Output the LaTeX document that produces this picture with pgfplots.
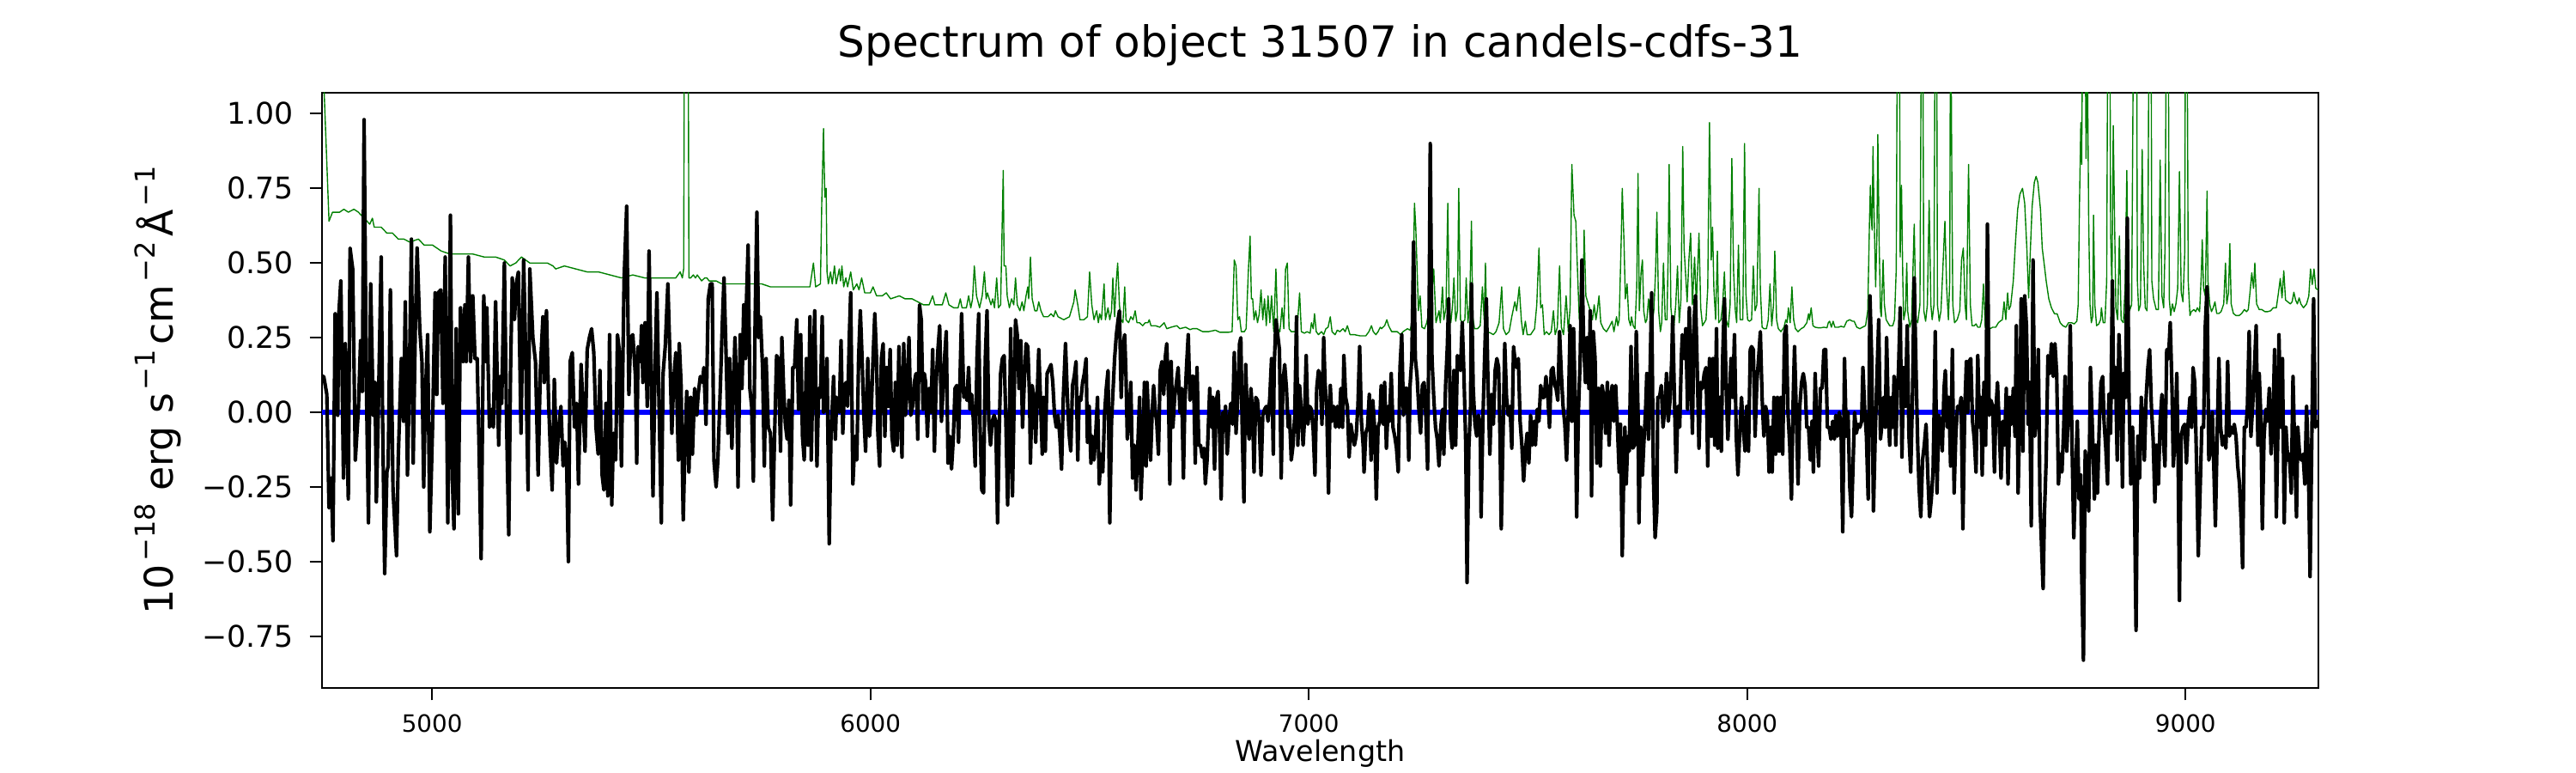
\documentclass[border=0pt]{standalone}
\usepackage{fontspec}
\setmainfont{DejaVu Sans}
\usepackage{pgfplots}
\pgfplotsset{compat=1.18}
\definecolor{mplgreen}{rgb}{0,0.5,0}
\newcommand\sups[1]{\kern0.08em\raisebox{0.44em}{\fontsize{11.5bp}{12bp}\selectfont #1}}
\begin{document}
\begin{tikzpicture}
\useasboundingbox (-135bp,-35.64bp) rectangle (945bp,288.36bp);
\begin{axis}[
  at={(0,0)}, anchor=south west,
  scale only axis, width=837bp, height=249.48bp,
  xmin=4749, xmax=9303, ymin=-0.923, ymax=1.070,
  axis line style={line width=0.8bp},
  tick align=outside, tick pos=left,
  major tick length=5.2bp,
  every tick/.style={line width=0.8bp, black},
  xtick={5000,6000,7000,8000,9000},
  xticklabels={5000,6000,7000,8000,9000},
  ytick={-0.75,-0.5,-0.25,0,0.25,0.5,0.75,1},
  yticklabels={−0.75,−0.50,−0.25,0.00,0.25,0.50,0.75,1.00},
  xticklabel style={font=\fontsize{10bp}{12bp}\selectfont, inner sep=0pt, anchor=north, yshift=-5.8bp},
  yticklabel style={font=\fontsize{12.5bp}{14bp}\selectfont, inner sep=0pt, anchor=east, xshift=-6.5bp},
  title={Spectrum of object 31507 in candels-cdfs-31},
  title style={font=\fontsize{18bp}{22bp}\selectfont, at={(axis description cs:0.5,1)}, anchor=base, yshift=9bp, inner sep=0pt},
  xlabel={Wavelength},
  xlabel style={font=\fontsize{12bp}{14bp}\selectfont, at={(axis description cs:0.5,0)}, anchor=base, yshift=-30.85bp, inner sep=0pt},
  ylabel={10\sups{−18} erg s\sups{−1}\kern0.12em cm\sups{−2}\kern0.12em Å\sups{−1}},
  ylabel style={font=\fontsize{16.5bp}{18bp}\selectfont, at={(axis description cs:-0.0748,0.5)}, anchor=base, inner sep=0pt},
]
% error spectrum (green)
\addplot[mplgreen, line width=0.5bp, line join=round, mark=none] coordinates {
(4749,1.4)(4754,1.07)(4765,0.64)(4773,0.67)(4779,0.67)(4789,0.67)(4799,0.68)(4809,0.67)(4822,0.68)(4832,0.67)(4845,0.65)(4858,0.63)(4864,0.65)(4868,0.62)(4884,0.62)(4897,0.60)(4910,0.60)(4923,0.58)(4936,0.58)(4949,0.57)(4969,0.58)(4982,0.56)(5001,0.56)(5021,0.54)(5041,0.53)(5067,0.53)(5093,0.53)(5119,0.52)(5145,0.52)(5165,0.51)(5178,0.49)(5191,0.50)(5204,0.52)(5223,0.50)(5243,0.50)(5263,0.50)(5276,0.49)(5282,0.48)(5302,0.49)(5328,0.48)(5354,0.47)(5380,0.47)(5406,0.46)(5432,0.45)(5458,0.46)(5485,0.45)(5511,0.45)(5537,0.45)(5556,0.45)
(5566,0.47)(5571,0.45)(5574,0.48)(5577,2.0)(5583,2.0)(5586,0.45)(5590,0.45)(5596,0.46)(5601,0.45)(5605,0.46)(5610,0.45)(5615,0.44)(5622,0.45)(5627,0.45)(5632,0.44)(5648,0.44)(5661,0.43)(5687,0.43)(5713,0.43)(5739,0.43)(5752,0.43)(5772,0.42)(5805,0.42)(5837,0.42)(5862,0.42)(5870,0.50)(5875,0.42)(5886,0.43)(5889,0.70)(5893,0.95)(5896,0.72)(5899,0.75)(5901,0.47)(5904,0.43)(5909,0.47)(5913,0.43)(5918,0.49)(5922,0.43)(5929,0.48)(5932,0.44)(5935,0.49)(5939,0.42)(5944,0.45)(5948,0.42)(5955,0.47)(5961,0.41)(5969,0.43)(5974,0.41)(5980,0.45)(5987,0.40)(6000,0.40)(6006,0.42)(6014,0.39)(6027,0.39)(6036,0.40)(6046,0.38)(6066,0.39)(6079,0.38)
(6095,0.38)(6108,0.37)(6121,0.36)(6134,0.36)(6142,0.39)(6147,0.36)(6164,0.36)(6172,0.40)(6179,0.36)(6190,0.35)(6200,0.35)(6205,0.38)(6209,0.35)(6219,0.35)(6224,0.39)(6229,0.35)(6233,0.38)(6237,0.49)(6242,0.39)(6249,0.35)(6255,0.39)(6260,0.47)(6264,0.38)(6267,0.40)(6271,0.38)(6275,0.36)(6279,0.38)(6283,0.35)(6288,0.45)(6292,0.35)(6297,0.36)(6303,0.81)(6305,0.49)(6309,0.49)(6312,0.39)(6317,0.35)(6322,0.38)(6327,0.36)(6331,0.45)(6335,0.36)(6341,0.34)(6346,0.37)(6350,0.34)(6355,0.39)(6359,0.42)(6361,0.38)(6365,0.52)(6369,0.38)(6375,0.34)(6380,0.34)(6384,0.37)(6389,0.34)(6395,0.32)(6405,0.32)(6412,0.33)(6418,0.32)(6422,0.34)(6428,0.32)(6441,0.31)(6454,0.32)(6464,0.37)(6467,0.41)(6473,0.36)(6478,0.31)(6487,0.31)(6495,0.32)(6500,0.47)(6505,0.36)(6510,0.31)(6516,0.34)(6520,0.30)(6523,0.33)(6527,0.31)(6533,0.43)(6536,0.31)(6542,0.35)(6546,0.31)(6550,0.34)(6553,0.45)(6557,0.32)(6561,0.44)(6564,0.50)(6568,0.36)(6572,0.31)(6576,0.30)(6580,0.42)(6583,0.31)(6589,0.30)(6594,0.32)(6599,0.31)(6604,0.34)(6608,0.30)(6614,0.30)(6621,0.29)(6627,0.30)
(6633,0.30)(6636,0.31)(6640,0.29)(6650,0.29)(6660,0.285)(6670,0.30)(6676,0.28)(6686,0.285)(6699,0.29)(6706,0.28)(6719,0.285)(6729,0.277)(6735,0.28)(6745,0.28)(6758,0.27)(6771,0.27)(6787,0.275)(6797,0.268)(6817,0.268)(6825,0.27)(6830,0.51)(6834,0.49)(6838,0.31)(6842,0.32)(6846,0.27)(6853,0.27)(6857,0.28)(6862,0.47)(6866,0.59)(6869,0.38)(6872,0.38)(6875,0.31)(6879,0.34)(6883,0.30)(6887,0.33)(6891,0.41)(6895,0.31)(6899,0.38)(6903,0.29)(6907,0.39)(6911,0.30)(6915,0.39)(6920,0.27)(6925,0.48)(6929,0.28)(6934,0.27)(6939,0.35)(6943,0.28)(6947,0.48)(6951,0.50)(6955,0.28)(6960,0.27)(6967,0.27)(6973,0.27)(6979,0.40)(6983,0.27)(6990,0.265)(6996,0.27)(7003,0.265)(7006,0.30)(7010,0.28)(7013,0.33)(7017,0.27)(7022,0.26)(7029,0.27)(7034,0.26)(7039,0.28)(7044,0.285)(7049,0.32)(7053,0.27)(7060,0.26)(7065,0.275)(7071,0.27)(7078,0.28)(7083,0.27)(7088,0.29)(7094,0.26)(7104,0.26)(7117,0.256)(7130,0.256)(7137,0.27)(7143,0.29)(7147,0.27)(7153,0.26)(7158,0.27)(7163,0.285)
(7166,0.28)(7173,0.29)(7178,0.31)(7182,0.29)(7189,0.27)(7196,0.27)(7202,0.27)(7209,0.26)(7215,0.27)(7225,0.28)(7231,0.275)(7237,0.31)(7241,0.70)(7244,0.62)(7250,0.34)(7254,0.39)(7258,0.285)(7264,0.28)(7269,0.30)(7274,0.34)(7278,0.35)(7285,0.48)(7290,0.30)(7297,0.34)(7300,0.30)(7305,0.42)(7308,0.31)(7313,0.35)(7317,0.70)(7320,0.36)(7324,0.30)(7328,0.36)(7331,0.45)(7335,0.305)(7339,0.34)(7342,0.75)(7346,0.31)(7350,0.30)(7356,0.31)(7359,0.45)(7363,0.30)(7367,0.36)(7371,0.64)(7374,0.32)(7378,0.28)(7385,0.28)(7391,0.29)(7396,0.42)(7400,0.31)(7403,0.50)(7406,0.27)(7414,0.266)(7421,0.26)(7427,0.27)(7434,0.30)(7440,0.42)(7444,0.28)(7450,0.26)(7457,0.27)(7463,0.32)(7470,0.37)(7474,0.34)(7480,0.42)(7485,0.305)(7489,0.26)(7494,0.305)(7498,0.26)(7506,0.26)(7515,0.28)(7520,0.36)(7525,0.55)(7529,0.35)(7533,0.36)(7537,0.26)(7542,0.27)(7548,0.26)(7553,0.27)(7558,0.34)(7562,0.26)(7567,0.285)(7572,0.49)(7576,0.285)(7581,0.26)(7587,0.39)(7592,0.27)(7596,0.35)(7600,0.83)(7605,0.66)(7609,0.64)(7613,0.47)(7617,0.31)(7620,0.36)(7625,0.31)(7628,0.61)(7632,0.39)(7636,0.37)(7642,0.34)(7647,0.31)(7651,0.36)(7655,0.31)(7658,0.34)(7662,0.39)(7666,0.30)(7672,0.28)(7679,0.27)(7685,0.285)(7692,0.305)(7696,0.27)(7702,0.32)(7705,0.29)
(7708,0.31)(7713,0.60)(7715,0.75)(7719,0.57)(7722,0.38)(7726,0.43)(7730,0.31)(7734,0.29)(7736,0.32)(7740,0.29)(7744,0.28)(7748,0.42)(7751,0.80)(7754,0.34)(7758,0.47)(7761,0.51)(7764,0.34)(7768,0.30)(7771,0.31)(7775,0.38)(7779,0.31)(7783,0.29)(7787,0.34)(7791,0.47)(7794,0.67)(7798,0.34)(7802,0.27)(7805,0.30)(7809,0.50)(7813,0.31)(7817,0.31)(7820,0.55)(7822,0.83)(7826,0.35)(7829,0.305)(7833,0.29)(7837,0.36)(7841,0.49)(7845,0.30)(7849,0.38)(7853,0.89)(7856,0.55)(7860,0.45)(7863,0.37)(7867,0.51)(7871,0.60)(7875,0.36)(7880,0.52)(7884,0.36)(7888,0.52)(7890,0.60)(7894,0.35)(7898,0.29)(7902,0.30)(7906,0.31)(7910,0.415)(7914,0.97)(7918,0.51)(7921,0.62)(7924,0.415)(7928,0.31)(7932,0.54)(7935,0.30)(7940,0.31)(7944,0.36)(7948,0.47)(7952,0.31)(7957,0.285)(7961,0.36)(7965,0.85)(7969,0.47)(7973,0.34)(7976,0.30)(7980,0.56)(7984,0.31)(7990,0.31)(7994,0.90)(7997,0.40)(8001,0.31)(8005,0.305)(8010,0.31)(8014,0.49)(8018,0.34)(8022,0.36)(8027,0.75)(8030,0.415)(8034,0.285)(8038,0.28)(8044,0.28)(8048,0.31)(8052,0.43)(8056,0.29)(8060,0.36)(8063,0.54)(8067,0.31)(8071,0.28)(8077,0.27)(8084,0.285)(8088,0.31)(8091,0.30)(8094,0.35)(8098,0.30)(8102,0.42)(8106,0.31)(8110,0.28)(8116,0.27)(8123,0.28)(8129,0.285)(8136,0.30)(8140,0.33)(8142,0.31)(8146,0.35)(8150,0.29)(8155,0.285)(8162,0.283)(8168,0.283)(8175,0.285)(8182,0.283)(8185,0.30)(8188,0.305)(8192,0.285)(8196,0.305)(8200,0.285)(8208,0.285)(8214,0.288)(8221,0.285)(8227,0.305)(8234,0.31)(8240,0.305)
(8244,0.305)(8250,0.285)(8257,0.28)(8263,0.285)(8270,0.29)(8275,0.34)(8279,0.64)(8281,0.76)(8283,0.65)(8285,0.61)(8287,0.89)(8289,0.70)(8293,0.42)(8296,0.60)(8298,0.93)(8301,0.57)(8304,0.34)(8306,0.32)(8310,0.51)(8313,0.36)(8317,0.31)(8321,0.30)(8325,0.29)(8332,0.29)(8336,0.31)(8340,0.48)(8343,1.5)(8347,1.5)(8349,0.52)(8352,0.76)(8355,0.44)(8357,0.31)(8361,0.34)(8364,0.50)(8366,0.34)(8371,0.285)(8375,0.31)(8381,0.63)(8385,0.31)(8389,0.30)(8394,0.36)(8398,1.5)(8400,1.5)(8403,0.34)(8407,0.305)(8411,0.36)(8415,0.71)(8419,0.36)(8422,0.31)(8426,0.36)(8429,1.5)(8432,1.5)(8434,0.36)(8438,0.305)(8442,0.34)(8446,0.47)(8451,0.64)(8455,0.415)(8459,0.31)(8462,0.44)(8464,1.5)(8467,0.73)(8469,0.36)(8473,0.30)(8479,0.31)(8485,0.34)(8489,0.51)(8493,0.55)(8497,0.36)(8500,0.31)(8505,0.83)(8509,0.36)(8513,0.29)(8518,0.29)(8522,0.296)(8526,0.285)(8531,0.285)(8535,0.31)(8539,0.43)(8543,0.285)(8547,0.28)(8554,0.28)(8560,0.285)(8567,0.285)(8573,0.30)(8577,0.305)(8582,0.31)(8586,0.37)(8590,0.31)(8594,0.40)(8597,0.344)(8601,0.357)(8607,0.44)(8612,0.57)(8617,0.68)(8622,0.73)(8628,0.75)(8633,0.70)(8638,0.546)(8642,0.383)(8646,0.546)(8650,0.69)(8655,0.77)(8659,0.79)(8663,0.77)(8665,0.74)(8669,0.68)(8673,0.55)(8678,0.49)(8682,0.44)(8688,0.38)(8694,0.35)(8701,0.33)(8707,0.33)(8714,0.30)(8720,0.29)(8727,0.285)(8733,0.30)(8740,0.30)(8746,0.296)(8752,0.305)(8755,0.36)(8758,0.70)(8761,0.97)(8763,0.83)(8766,1.5)(8770,1.5)(8773,0.85)(8776,1.2)(8779,0.64)
(8782,0.36)(8785,0.30)(8788,0.32)(8790,0.66)(8793,0.36)(8797,0.29)(8802,0.296)(8806,0.31)(8808,0.35)(8812,0.30)(8816,0.30)(8820,0.44)(8823,1.5)(8827,1.5)(8829,0.60)(8832,0.415)(8835,0.96)(8838,0.64)(8841,0.35)(8845,0.31)(8849,0.59)(8853,0.31)(8858,0.30)(8862,0.415)(8866,0.81)(8869,0.415)(8872,0.34)(8877,0.36)(8882,1.5)(8888,1.5)(8890,0.44)(8893,0.34)(8897,0.36)(8901,0.88)(8904,0.51)(8908,0.35)(8912,0.34)(8914,0.51)(8917,1.5)(8921,1.5)(8923,0.44)(8927,0.38)(8933,0.344)(8938,0.344)(8942,0.845)(8946,0.39)(8950,0.35)(8953,0.546)(8957,1.5)(8960,1.5)(8963,0.376)(8966,0.324)(8970,0.363)(8974,0.337)(8978,0.363)(8982,0.415)(8986,0.806)(8990,0.402)(8994,0.37)(8998,0.533)(9000,1.5)(9003,1.5)(9006,0.44)(9010,0.324)(9013,0.337)(9019,0.344)(9023,0.337)(9027,0.35)(9032,0.337)(9036,0.467)(9038,0.578)(9041,0.415)(9045,0.389)(9049,0.741)(9051,0.441)(9055,0.363)(9059,0.337)(9063,0.35)(9067,0.37)(9071,0.331)(9076,0.331)(9081,0.337)(9087,0.363)(9091,0.50)(9094,0.363)(9098,0.402)(9101,0.565)(9104,0.363)(9109,0.331)(9115,0.324)(9122,0.324)(9128,0.331)(9134,0.344)(9139,0.337)(9143,0.344)(9147,0.402)(9151,0.467)(9155,0.415)(9158,0.50)(9162,0.363)(9168,0.344)(9174,0.344)(9181,0.337)(9187,0.337)(9194,0.34)(9200,0.35)(9207,0.35)(9212,0.402)(9216,0.448)(9220,0.383)(9224,0.474)(9228,0.376)(9233,0.37)(9239,0.363)(9243,0.37)(9247,0.402)(9251,0.376)(9255,0.363)(9259,0.383)(9263,0.363)(9269,0.35)(9276,0.363)(9281,0.389)(9285,0.48)(9289,0.428)(9293,0.48)(9297,0.415)(9303,0.409)
};
% zero line (blue)
\addplot[blue, line width=2bp, mark=none] coordinates {(4749,0)(9303,0)};
% flux (black)
\addplot[black, line width=1.5bp, line join=round, mark=none] coordinates {
(4749,0.12)(4753,0.12)(4760,0.06)(4765,-0.32)(4770,-0.22)(4774,-0.43)(4779,0.33)(4785,-0.01)(4787,0.32)(4792,0.44)(4798,-0.22)(4802,0.23)(4809,-0.29)(4813,0.55)(4819,0.48)(4825,-0.16)(4832,0.01)(4837,0.24)(4841,0.07)(4845,0.98)(4850,0.12)(4855,-0.37)(4860,0.43)(4866,-0.01)(4870,0.10)(4873,-0.30)(4877,-0.03)(4884,0.52)(4887,0.01)(4892,-0.54)(4897,-0.20)(4900,-0.18)(4905,0.41)(4911,-0.26)(4919,-0.48)(4923,-0.15)(4930,0.18)(4935,-0.03)(4939,0.37)(4944,-0.21)(4948,0.09)(4953,0.58)(4957,-0.17)(4962,0.29)(4966,0.55)(4972,0.28)(4977,0.17)(4981,-0.25)(4985,0.06)(4990,0.26)(4995,-0.40)(5001,-0.06)(5007,0.40)(5011,0.06)(5014,0.40)(5020,0.41)(5025,0.03)(5030,0.52)(5036,-0.37)(5042,0.66)(5046,-0.21)(5050,-0.39)(5055,0.28)(5060,-0.34)(5065,0.35)(5071,0.17)(5075,0.36)(5078,0.17)(5083,0.52)(5088,0.17)(5093,0.39)(5098,0.18)(5103,0.18)(5107,-0.10)(5112,-0.49)(5118,0.39)(5123,0.17)(5125,0.35)(5131,-0.05)(5136,0.01)(5140,-0.05)(5145,0.37)(5152,-0.11)(5156,0.12)(5159,0.03)(5165,0.50)(5170,-0.03)(5175,-0.41)(5179,0.13)(5183,0.45)(5188,0.31)(5192,0.43)(5197,0.47)(5203,-0.07)(5209,0.51)(5214,0.17)(5219,-0.26)(5223,0.48)(5230,0.25)(5236,0.17)(5242,-0.21)(5247,0.14)(5253,0.32)(5256,0.10)(5261,0.34)(5266,0.03)(5270,-0.13)(5274,-0.26)(5279,0.11)(5284,-0.17)(5289,-0.05)(5294,0.02)(5299,-0.18)(5303,-0.10)(5307,-0.16)(5311,-0.50)(5315,0.17)(5320,0.20)(5325,-0.05)(5330,0.03)(5334,-0.24)(5340,0.16)(5344,0.03)(5349,-0.13)(5354,0.21)(5359,0.25)(5364,0.28)(5369,0.20)(5374,-0.05)(5379,-0.14)(5383,0.14)(5388,-0.21)(5392,-0.26)(5397,0.03)(5401,-0.28)(5405,0.26)(5410,-0.31)(5414,-0.07)(5419,-0.16)(5423,0.26)(5427,0.21)(5432,-0.18)(5438,0.44)(5444,0.69)(5449,0.06)(5453,0.25)(5458,0.26)(5464,0.12)(5467,-0.17)(5470,0.22)(5475,0.17)(5478,0.29)(5481,0.10)(5486,0.30)(5491,0.02)(5495,0.54)(5500,0.12)(5504,-0.28)(5509,0.17)(5513,0.40)(5517,0.09)(5523,-0.37)(5527,0.13)(5532,0.22)(5538,0.43)(5543,0.17)(5547,-0.07)(5551,0.10)(5556,0.20)(5562,-0.16)
(5564,0.23)(5568,0.10)(5573,-0.36)(5577,-0.11)(5581,0.07)(5586,-0.20)(5590,0.05)(5594,-0.14)(5599,0.08)(5604,-0.01)(5607,0.06)(5612,0.12)(5617,0.10)(5620,0.15)(5625,-0.04)(5630,0.38)(5635,0.43)(5639,0.43)(5643,-0.16)(5648,-0.25)(5652,-0.16)(5658,0.10)(5662,0.29)(5666,0.45)(5671,0.18)(5675,-0.07)(5679,0.18)(5684,-0.12)(5687,0.05)(5691,0.25)(5695,0.08)(5698,-0.25)(5703,0.26)(5707,0.08)(5711,0.36)(5715,0.18)(5717,0.36)(5721,0.56)(5725,0.08)(5729,0.02)(5733,-0.23)(5737,0.31)(5741,0.67)(5745,0.25)(5749,0.32)(5754,0.15)(5758,-0.18)(5762,0.18)(5767,-0.05)(5772,-0.07)(5777,-0.36)(5782,-0.04)(5786,0.19)(5790,0.18)(5795,-0.13)(5798,0.25)(5802,0.08)(5806,-0.04)(5810,-0.09)(5814,0.04)(5818,-0.31)(5823,0.15)(5827,0.15)(5832,0.31)(5836,0.01)(5841,0.26)(5845,-0.08)(5849,-0.16)(5854,0.18)(5858,-0.11)(5862,0.32)(5865,-0.16)(5869,0.14)(5873,0.34)(5878,-0.18)(5882,0.08)(5886,0.05)(5890,0.32)(5893,0.00)(5897,0.01)(5901,0.18)(5906,-0.44)(5910,-0.08)(5916,0.12)(5920,-0.09)(5923,0.05)(5929,0.00)(5933,0.24)(5937,-0.07)(5940,0.05)(5944,0.10)(5948,0.02)(5952,0.26)(5955,0.40)(5960,-0.24)(5965,-0.08)(5969,-0.16)(5973,0.18)(5977,0.34)(5981,0.18)(5985,-0.01)(5989,-0.13)(5994,0.18)(5998,-0.08)(6002,0.01)(6006,0.18)(6010,0.33)(6014,0.18)(6017,-0.07)(6021,-0.18)(6025,0.18)(6029,0.23)(6033,-0.08)(6037,0.15)(6041,0.02)(6045,0.21)(6049,-0.08)(6053,-0.13)(6057,0.10)(6061,-0.11)(6065,0.22)(6068,0.05)(6072,-0.15)(6076,0.23)(6080,-0.01)(6084,0.08)(6088,0.25)
(6092,-0.01)(6096,0.02)(6100,0.10)(6104,0.13)(6108,-0.09)(6112,0.36)(6116,0.31)(6120,0.01)(6123,0.13)(6126,0.10)(6130,-0.08)(6134,0.08)(6138,0.00)(6142,0.21)(6146,-0.13)(6150,0.10)(6154,0.21)(6158,0.29)(6162,-0.03)(6166,0.08)(6169,0.18)(6173,0.27)(6177,-0.17)(6181,-0.08)(6185,-0.19)(6189,-0.09)(6193,0.08)(6197,0.09)(6201,-0.10)(6205,0.15)(6208,0.33)(6213,0.05)(6217,0.08)(6220,0.04)(6224,0.15)(6227,0.01)(6231,0.06)(6235,-0.03)(6239,-0.18)(6243,0.18)(6247,0.33)(6250,-0.04)(6254,-0.26)(6258,-0.27)(6262,0.18)(6266,0.34)(6270,-0.03)(6274,-0.11)(6278,-0.03)(6282,-0.01)(6286,-0.03)(6290,-0.37)(6294,-0.05)(6297,0.13)(6301,0.18)(6305,0.19)(6309,-0.03)(6313,-0.31)(6317,-0.05)(6320,0.28)(6324,-0.28)(6328,0.05)(6331,0.31)(6335,0.26)(6339,0.08)(6343,0.24)(6347,-0.05)(6351,0.10)(6355,0.23)(6359,0.22)(6363,0.05)(6365,-0.17)(6369,0.09)(6373,0.05)(6377,-0.10)(6381,0.08)(6384,0.21)(6388,0.04)(6392,-0.14)(6395,0.05)(6399,-0.13)(6403,0.13)(6409,0.15)(6412,0.16)(6416,0.10)(6420,-0.01)(6424,-0.05)(6428,-0.01)(6432,-0.08)(6436,-0.19)(6440,0.05)(6445,0.23)(6449,0.06)(6453,-0.07)(6457,-0.13)(6461,0.09)(6465,0.12)(6469,0.17)(6473,-0.16)(6476,0.05)(6480,0.04)(6484,0.10)(6488,0.13)(6492,0.18)(6495,-0.10)(6499,0.02)(6503,-0.17)(6506,-0.08)(6510,-0.16)(6514,-0.07)(6518,0.05)(6522,-0.24)(6526,-0.14)(6530,-0.20)(6534,-0.01)(6538,0.08)(6542,0.14)(6546,-0.37)(6550,-0.03)(6553,0.06)(6557,0.18)(6561,0.26)(6565,0.31)(6568,0.34)(6572,0.05)(6576,0.22)(6580,0.26)(6583,0.12)(6586,-0.09)(6590,-0.01)(6594,0.10)(6598,-0.22)(6602,-0.11)(6606,-0.26)(6610,-0.11)(6614,0.05)(6617,-0.29)(6621,-0.14)(6625,0.10)(6629,-0.18)
(6631,0.10)(6635,-0.04)(6639,-0.16)(6643,0.01)(6646,0.09)(6650,0.00)(6653,-0.03)(6657,-0.14)(6661,0.14)(6665,0.17)(6669,0.06)(6673,0.19)(6676,0.23)(6680,0.05)(6683,-0.24)(6686,0.17)(6690,-0.05)(6694,0.05)(6698,0.10)(6702,0.15)(6706,0.00)(6710,0.08)(6714,-0.22)(6717,0.02)(6721,0.15)(6725,0.26)(6729,0.04)(6733,0.12)(6737,0.12)(6741,-0.17)(6745,0.15)(6749,-0.11)(6753,-0.11)(6757,-0.15)(6761,-0.12)(6764,-0.24)(6768,-0.16)(6774,0.08)(6778,-0.05)(6781,0.05)(6785,-0.19)(6789,0.04)(6793,0.07)(6796,-0.04)(6800,-0.29)(6804,0.00)(6808,-0.04)(6810,0.02)(6814,-0.14)(6818,-0.03)(6822,0.03)(6826,-0.04)(6830,0.20)(6834,-0.07)(6838,0.05)(6842,0.23)(6845,0.25)(6848,-0.05)(6852,-0.30)(6856,0.16)(6860,-0.03)(6864,-0.09)(6868,0.08)(6872,-0.01)(6875,-0.20)(6879,0.05)(6883,0.04)(6887,-0.04)(6891,-0.21)(6895,-0.01)(6899,0.01)(6903,0.02)(6907,-0.03)(6911,0.05)(6915,0.18)(6919,-0.14)(6921,0.15)(6925,0.31)(6929,0.26)(6933,0.21)(6937,-0.22)(6941,0.10)(6945,0.16)(6949,0.08)(6953,-0.05)(6956,-0.01)(6960,-0.16)(6964,-0.11)(6968,-0.01)(6972,0.32)(6975,-0.11)(6979,0.09)(6983,0.00)(6987,-0.11)(6990,-0.03)(6994,0.19)(6998,-0.04)(7002,0.02)(7006,0.01)(7010,-0.06)(7014,-0.21)(7018,0.08)(7022,0.14)(7026,0.12)(7030,-0.04)(7034,0.25)(7037,0.10)(7041,0.01)(7045,-0.27)(7049,0.09)(7053,-0.03)(7057,0.02)(7061,-0.05)(7065,0.02)(7069,-0.05)(7073,0.08)(7077,-0.05)(7080,0.19)(7084,0.05)(7088,0.02)(7092,-0.15)(7096,-0.04)(7100,-0.08)(7104,-0.11)(7108,-0.08)(7112,0.02)(7116,0.22)(7120,-0.03)(7124,-0.11)(7126,-0.20)(7130,-0.07)(7134,-0.05)(7138,0.06)(7142,-0.16)(7146,0.04)(7150,-0.05)(7154,-0.29)(7158,-0.05)(7162,-0.03)(7165,0.09)
(7170,-0.04)(7173,0.10)(7177,-0.12)(7181,0.02)(7184,-0.03)(7188,0.13)(7192,-0.05)(7196,-0.08)(7200,-0.12)(7204,-0.20)(7208,0.15)(7212,0.26)(7216,-0.01)(7220,0.08)(7224,0.08)(7228,-0.16)(7231,0.09)(7235,0.18)(7239,0.57)(7243,0.18)(7247,0.12)(7251,0.01)(7255,-0.07)(7259,0.09)(7263,0.10)(7267,-0.01)(7271,-0.19)(7275,0.44)(7277,0.90)(7281,0.18)(7285,0.05)(7289,-0.05)(7293,-0.09)(7297,-0.18)(7301,-0.05)(7305,0.01)(7308,-0.14)(7312,0.09)(7316,0.22)(7319,0.38)(7323,-0.05)(7327,-0.12)(7331,0.14)(7335,-0.11)(7339,0.19)(7342,0.18)(7346,0.14)(7350,0.30)(7354,0.12)(7358,-0.11)(7361,-0.57)(7365,-0.12)(7369,0.02)(7371,0.43)(7375,0.08)(7379,-0.04)(7383,-0.08)(7387,-0.01)(7391,-0.05)(7393,-0.35)(7397,-0.03)(7401,0.18)(7405,0.38)(7409,0.08)(7413,-0.14)(7417,0.06)(7421,-0.04)(7425,0.14)(7429,0.18)(7433,0.15)(7436,-0.07)(7439,-0.39)(7443,-0.08)(7447,0.23)(7451,0.05)(7455,-0.01)(7459,0.02)(7463,-0.12)(7467,0.22)(7470,0.18)(7474,0.15)(7478,0.18)(7482,-0.03)(7486,-0.11)(7490,-0.23)(7494,-0.13)(7498,-0.07)(7502,-0.17)(7506,-0.01)(7510,-0.11)(7514,-0.03)(7517,-0.11)(7521,0.01)(7525,-0.03)(7529,0.09)(7533,0.05)(7537,0.05)(7541,0.12)(7545,0.06)(7549,-0.05)(7553,0.14)(7557,0.15)(7561,0.09)(7564,0.08)(7568,0.04)(7572,0.27)(7576,0.13)(7580,0.02)(7584,-0.04)(7588,-0.16)(7592,0.00)(7596,0.29)(7600,-0.03)(7604,0.28)(7608,0.01)(7611,-0.35)(7615,0.00)(7619,0.18)(7623,0.51)(7627,0.23)(7631,0.10)(7635,0.25)(7639,0.08)(7642,0.34)(7645,-0.28)(7649,0.27)(7653,0.18)(7657,-0.17)(7661,0.08)(7665,-0.18)(7669,0.09)(7673,0.05)(7677,-0.07)(7681,0.10)(7685,-0.11)(7689,0.05)(7692,0.09)(7696,-0.03)(7700,0.09)(7704,-0.05)
(7708,-0.20)(7711,-0.04)(7715,-0.48)(7718,-0.24)(7721,-0.05)(7724,-0.24)(7728,-0.08)(7731,-0.13)(7735,0.22)(7739,-0.12)(7743,-0.11)(7747,0.27)(7751,0.00)(7753,-0.37)(7757,-0.05)(7761,-0.21)(7764,-0.11)(7768,0.00)(7771,0.13)(7775,-0.09)(7778,0.10)(7782,0.40)(7786,-0.21)(7790,-0.42)(7794,-0.33)(7796,0.05)(7800,0.05)(7804,0.09)(7808,-0.05)(7812,0.01)(7816,0.13)(7820,-0.03)(7824,0.04)(7828,0.18)(7830,0.32)(7834,0.05)(7838,-0.20)(7842,0.02)(7846,-0.05)(7850,0.19)(7852,0.26)(7856,0.18)(7860,0.28)(7864,0.01)(7868,0.35)(7871,0.18)(7875,-0.07)(7879,0.31)(7882,0.39)(7886,0.15)(7890,-0.12)(7894,0.10)(7898,0.08)(7902,0.13)(7906,0.15)(7910,-0.18)(7914,0.18)(7918,-0.08)(7922,0.18)(7926,-0.11)(7930,0.28)(7933,-0.12)(7937,0.05)(7941,-0.13)(7944,0.18)(7948,0.38)(7952,0.08)(7956,-0.09)(7960,0.06)(7963,0.18)(7967,0.05)(7971,0.26)(7975,-0.08)(7979,-0.21)(7983,-0.07)(7987,0.05)(7991,-0.05)(7995,-0.13)(7999,0.02)(8003,-0.13)(8007,0.21)(8010,0.22)(8014,0.21)(8018,-0.08)(8022,0.10)(8026,0.18)(8030,0.27)(8034,0.05)(8038,-0.08)(8042,0.02)(8046,-0.01)(8050,-0.20)(8054,-0.05)(8057,-0.20)(8061,0.05)(8065,-0.14)(8069,0.05)(8073,-0.13)(8077,0.05)(8081,-0.14)(8085,0.26)(8089,0.29)(8093,0.00)(8097,-0.11)(8101,-0.29)(8105,0.05)(8108,0.22)(8112,0.00)(8116,-0.24)(8120,0.02)(8124,0.10)(8128,0.13)(8132,0.09)(8136,-0.05)(8140,-0.05)(8144,-0.16)(8148,-0.03)(8151,-0.20)(8155,0.13)(8159,-0.05)(8163,-0.18)(8167,0.08)(8171,0.08)(8175,0.21)(8179,0.21)(8183,-0.05)(8187,-0.05)(8191,-0.09)(8195,-0.03)(8199,-0.09)(8202,-0.01)(8206,-0.08)(8210,0.00)(8214,-0.04)(8218,-0.40)(8222,0.18)(8226,-0.08)(8230,0.00)(8234,-0.25)(8238,-0.35)
(8245,0.00)(8249,-0.07)(8253,-0.04)(8257,-0.05)(8261,-0.03)(8264,0.15)(8268,0.01)(8272,-0.08)(8276,-0.29)(8280,0.39)(8284,0.18)(8288,-0.33)(8292,-0.08)(8296,0.12)(8300,0.31)(8304,-0.09)(8308,-0.03)(8311,0.05)(8315,-0.05)(8318,0.25)(8322,-0.01)(8325,-0.11)(8328,0.05)(8332,-0.05)(8335,0.12)(8339,-0.11)(8343,0.10)(8345,0.13)(8349,0.35)(8353,-0.15)(8357,0.15)(8361,0.02)(8365,0.29)(8369,-0.08)(8373,-0.20)(8377,0.05)(8381,0.45)(8385,0.15)(8389,-0.11)(8392,-0.25)(8396,-0.35)(8400,-0.16)(8404,-0.11)(8408,-0.04)(8412,-0.21)(8416,-0.35)(8420,-0.29)(8424,-0.20)(8426,-0.03)(8429,0.27)(8433,-0.27)(8437,-0.01)(8441,-0.03)(8445,-0.13)(8449,0.08)(8452,0.14)(8456,-0.05)(8460,0.05)(8464,-0.18)(8468,0.21)(8472,-0.27)(8476,-0.07)(8480,0.02)(8484,0.01)(8488,0.05)(8492,-0.39)(8496,-0.01)(8500,0.17)(8503,0.00)(8506,0.17)(8510,0.18)(8514,-0.03)(8518,-0.09)(8522,-0.20)(8526,0.19)(8530,-0.05)(8533,0.05)(8536,-0.21)(8540,0.10)(8544,-0.11)(8548,0.63)(8552,-0.01)(8556,0.04)(8560,0.02)(8564,-0.20)(8567,0.00)(8571,0.10)(8575,-0.05)(8579,-0.22)(8583,-0.03)(8587,-0.11)(8591,0.08)(8595,-0.24)(8599,0.05)(8603,-0.04)(8607,0.08)(8611,-0.08)(8614,0.29)(8618,-0.27)(8622,0.02)(8625,0.38)(8629,-0.13)(8633,0.39)(8637,0.29)(8641,-0.04)(8644,0.10)(8648,-0.38)(8652,0.51)(8656,-0.08)(8660,-0.01)(8664,0.21)(8668,-0.31)(8672,-0.47)(8675,-0.59)(8678,-0.34)(8682,-0.16)(8686,0.19)(8690,0.13)(8694,0.23)(8698,0.12)(8702,0.23)(8706,0.13)(8710,-0.24)(8714,-0.14)(8718,-0.20)(8722,-0.05)(8725,0.12)(8729,-0.13)(8733,0.01)(8737,0.29)(8741,-0.11)(8745,-0.42)(8749,-0.21)(8753,-0.03)(8757,-0.29)(8761,-0.21)(8763,-0.54)(8767,-0.83)(8771,-0.13)(8775,-0.21)(8779,-0.33)(8783,0.15)
(8788,-0.08)(8792,-0.29)(8795,-0.11)(8799,-0.27)(8803,-0.05)(8807,0.10)(8811,0.12)(8814,-0.03)(8818,-0.12)(8822,-0.24)(8825,0.06)(8829,-0.07)(8833,0.44)(8836,0.05)(8840,0.15)(8844,-0.16)(8848,0.26)(8852,0.10)(8856,-0.25)(8859,0.13)(8863,0.05)(8867,0.65)(8871,0.05)(8875,-0.24)(8879,-0.05)(8883,-0.24)(8887,-0.73)(8891,-0.08)(8895,-0.22)(8899,0.05)(8902,-0.03)(8906,-0.16)(8910,0.05)(8914,0.15)(8918,0.21)(8922,0.02)(8926,-0.09)(8930,-0.30)(8934,-0.11)(8938,-0.24)(8942,-0.03)(8946,0.06)(8950,-0.11)(8953,-0.18)(8957,0.21)(8961,0.18)(8965,0.30)(8969,0.08)(8972,-0.18)(8976,-0.08)(8980,0.13)(8983,-0.16)(8986,-0.63)(8990,-0.08)(8994,-0.05)(8998,-0.04)(9002,-0.17)(9006,-0.03)(9010,0.05)(9014,-0.05)(9017,0.15)(9021,0.10)(9025,-0.17)(9029,-0.48)(9033,-0.27)(9037,-0.05)(9041,-0.05)(9045,0.29)(9049,0.42)(9053,-0.16)(9057,-0.13)(9061,0.00)(9064,-0.16)(9068,-0.38)(9072,-0.08)(9076,0.18)(9080,-0.05)(9084,-0.11)(9088,-0.08)(9092,-0.12)(9096,0.17)(9100,-0.08)(9104,-0.05)(9108,-0.07)(9111,-0.04)(9115,-0.08)(9119,-0.18)(9123,-0.24)(9127,-0.37)(9130,-0.52)(9134,-0.05)(9138,-0.05)(9141,0.02)(9145,0.27)(9149,-0.08)(9153,0.02)(9157,0.15)(9161,0.29)(9165,-0.11)(9168,0.13)(9172,-0.03)(9175,-0.39)(9179,-0.08)(9183,0.01)(9187,-0.03)(9191,0.08)(9195,-0.14)(9199,-0.05)(9203,0.21)(9207,-0.35)(9211,-0.03)(9213,0.26)(9217,-0.05)(9221,0.18)(9225,-0.37)(9229,-0.05)(9233,-0.16)(9237,-0.14)(9241,-0.27)(9245,0.12)(9249,-0.13)(9253,-0.35)(9256,-0.05)(9260,-0.14)(9264,-0.16)(9268,-0.14)(9272,-0.24)(9276,0.02)(9280,-0.16)(9284,-0.55)(9288,-0.08)(9292,0.38)(9296,-0.05)(9299,-0.03)(9303,-0.05)
};
\end{axis}
\end{tikzpicture}
\end{document}
